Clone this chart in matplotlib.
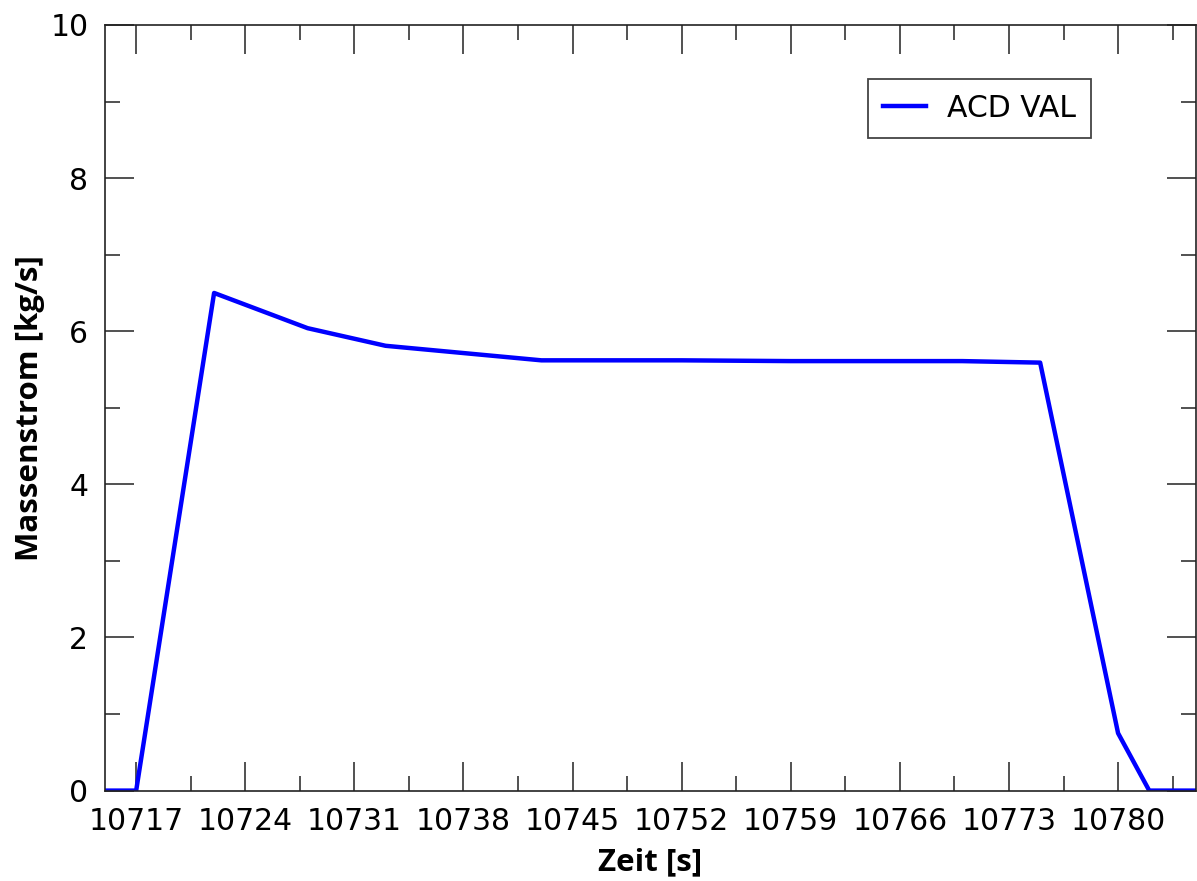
import matplotlib
matplotlib.use("Agg")
import matplotlib.pyplot as plt
from matplotlib.ticker import MultipleLocator

# ACD VAL mass flow
zeit = [10715, 10717, 10722, 10728, 10733, 10743, 10752, 10759, 10766, 10770, 10775, 10780, 10782, 10785]
massenstrom = [0.0, 0.0, 6.50, 6.04, 5.81, 5.62, 5.62, 5.61, 5.61, 5.61, 5.59, 0.75, 0.0, 0.0]
x_ticks = [10717, 10724, 10731, 10738, 10745, 10752, 10759, 10766, 10773, 10780]
series_label = "ACD VAL"

fig = plt.figure(figsize=(11.97, 8.81), dpi=100)
ax = fig.add_axes([105 / 1197, 1 - 790.6 / 881, 1091 / 1197, 765.6 / 881])

ax.plot(zeit, massenstrom, color="#0000ff", lw=3.2, label=series_label)
ax.set_xlim(10715, 10785)
ax.set_ylim(0, 10)
ax.set_xticks(x_ticks)
ax.xaxis.set_minor_locator(MultipleLocator(3.5))
ax.yaxis.set_major_locator(MultipleLocator(2))
ax.yaxis.set_minor_locator(MultipleLocator(1))

ax.tick_params(which="both", direction="in", top=True, right=True, color="#333333",
               labelsize=21.5, width=1.2)
ax.tick_params(which="major", length=21, pad=12)
ax.tick_params(which="minor", length=11)
for s in ax.spines.values():
    s.set_linewidth(1.2)
    s.set_color("#222222")

lab = dict(family="Open Sans", weight="bold", fontsize=22.5)
ax.set_xlabel("Zeit [s]", labelpad=8, **lab)
ax.set_ylabel("Massenstrom [kg/s]", labelpad=4, **lab)

leg = ax.legend(loc="upper right", bbox_to_anchor=(0.904, 0.9295), borderaxespad=0,
                fontsize=21.5, fancybox=False, edgecolor="#444444", framealpha=1,
                handlelength=1.45, handletextpad=0.7, borderpad=0.5)
leg.get_frame().set_linewidth(1.3)

fig.savefig("out.png", dpi=100)
